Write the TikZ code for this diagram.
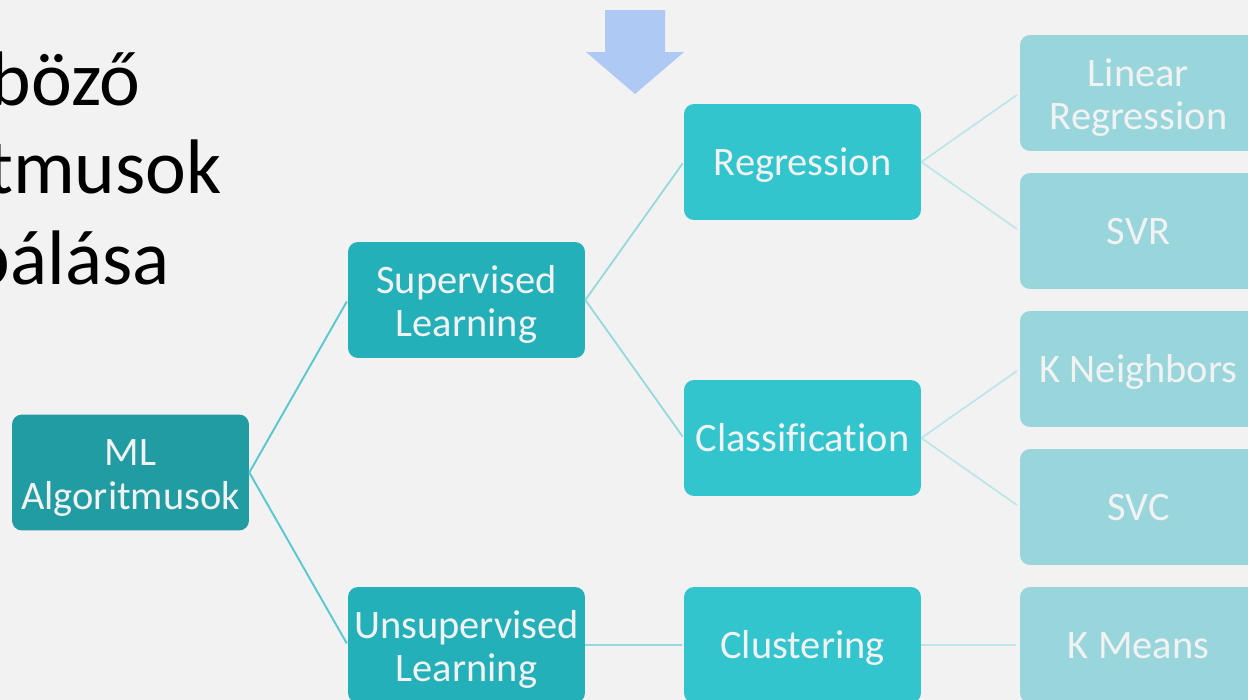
\documentclass[tikz,border=0pt]{standalone}
\usepackage{fontspec}
\setmainfont[Ligatures={NoCommon}]{Carlito}
\definecolor{bg}{HTML}{F2F2F2}
\definecolor{cA}{HTML}{209CA2}
\definecolor{cB}{HTML}{23B0B8}
\definecolor{cC}{HTML}{33C5CD}
\definecolor{cD}{HTML}{98D6DC}
\definecolor{lA}{HTML}{5BC8D0}
\definecolor{lB}{HTML}{94D8DE}
\definecolor{lC}{HTML}{BEE6EA}
\definecolor{arr}{HTML}{AFC9F5}
\definecolor{txt}{HTML}{F2F2F2}
\newcommand{\topstrut}{\rule{0pt}{21pt}}
\newcommand{\onestrut}{\rule[-6pt]{0pt}{27.5pt}}
\tikzset{
  box/.style={rectangle, rounded corners=0.2cm, minimum width=4.74cm, minimum height=2.32cm,
    inner sep=0pt, align=center, text=txt, font=\fontsize{23}{25}\selectfont},
  lvA/.style={box, fill=cA},
  lvB/.style={box, fill=cB},
  lvC/.style={box, fill=cC},
  lvD/.style={box, fill=cD},
  conA/.style={draw=lA, line width=1.1pt, shorten >=1pt},
  conB/.style={draw=lB, line width=1.0pt, shorten >=1pt},
  conC/.style={draw=lC, line width=1.0pt, shorten >=2pt},
  title/.style={anchor=base east, inner sep=0pt, font=\fontsize{44}{54}\selectfont, text=black}
}
\begin{document}
\begin{tikzpicture}[x=0.02cm,y=-0.02cm]
\useasboundingbox (0,0) rectangle (1248,700);
\fill[bg] (0,0) rectangle (1248,700);
\clip (0,0) rectangle (1248,700);

% title fragments
\node[title] (t1) at (141,105) {böző};
\node[title] (t2) at (222,193) {tmusok};
\node[title] (t3) at (170,284) {pálása};

% down arrow
\fill[arr] (605,10) -- (665,10) -- (665,52) -- (684,52) -- (635,94) -- (586,52) -- (605,52) -- cycle;

% nodes
\node[lvA] (ml) at (130.5,472.5) {\topstrut ML\\Algoritmusok};
\node[lvB] (sup) at (466.5,300) {\topstrut Supervised\\Learning};
\node[lvB] (uns) at (466.5,645) {\topstrut Unsupervised\\Learning};
\node[lvC] (reg) at (802.5,162) {\onestrut Regression};
\node[lvC] (cls) at (802.5,438) {\onestrut Classification};
\node[lvC] (clu) at (802.5,645) {\onestrut Clustering};
\node[lvD] (lin) at (1138.5,93) {\topstrut Linear\\Regression};
\node[lvD] (svr) at (1138.5,231) {\onestrut SVR};
\node[lvD] (knn) at (1138.5,369) {\onestrut K Neighbors};
\node[lvD] (svc) at (1138.5,507) {\onestrut SVC};
\node[lvD] (kme) at (1138.5,645) {\onestrut K Means};

% connectors
\draw[conA] (ml.east) -- (sup.west);
\draw[conA] (ml.east) -- (uns.west);
\draw[conB] (sup.east) -- (reg.west);
\draw[conB] (sup.east) -- (cls.west);
\draw[conB] (uns.east) -- (clu.west);
\draw[conC] (reg.east) -- (lin.west);
\draw[conC] (reg.east) -- (svr.west);
\draw[conC] (cls.east) -- (knn.west);
\draw[conC] (cls.east) -- (svc.west);
\draw[conC] (clu.east) -- (kme.west);
\end{tikzpicture}
\end{document}
